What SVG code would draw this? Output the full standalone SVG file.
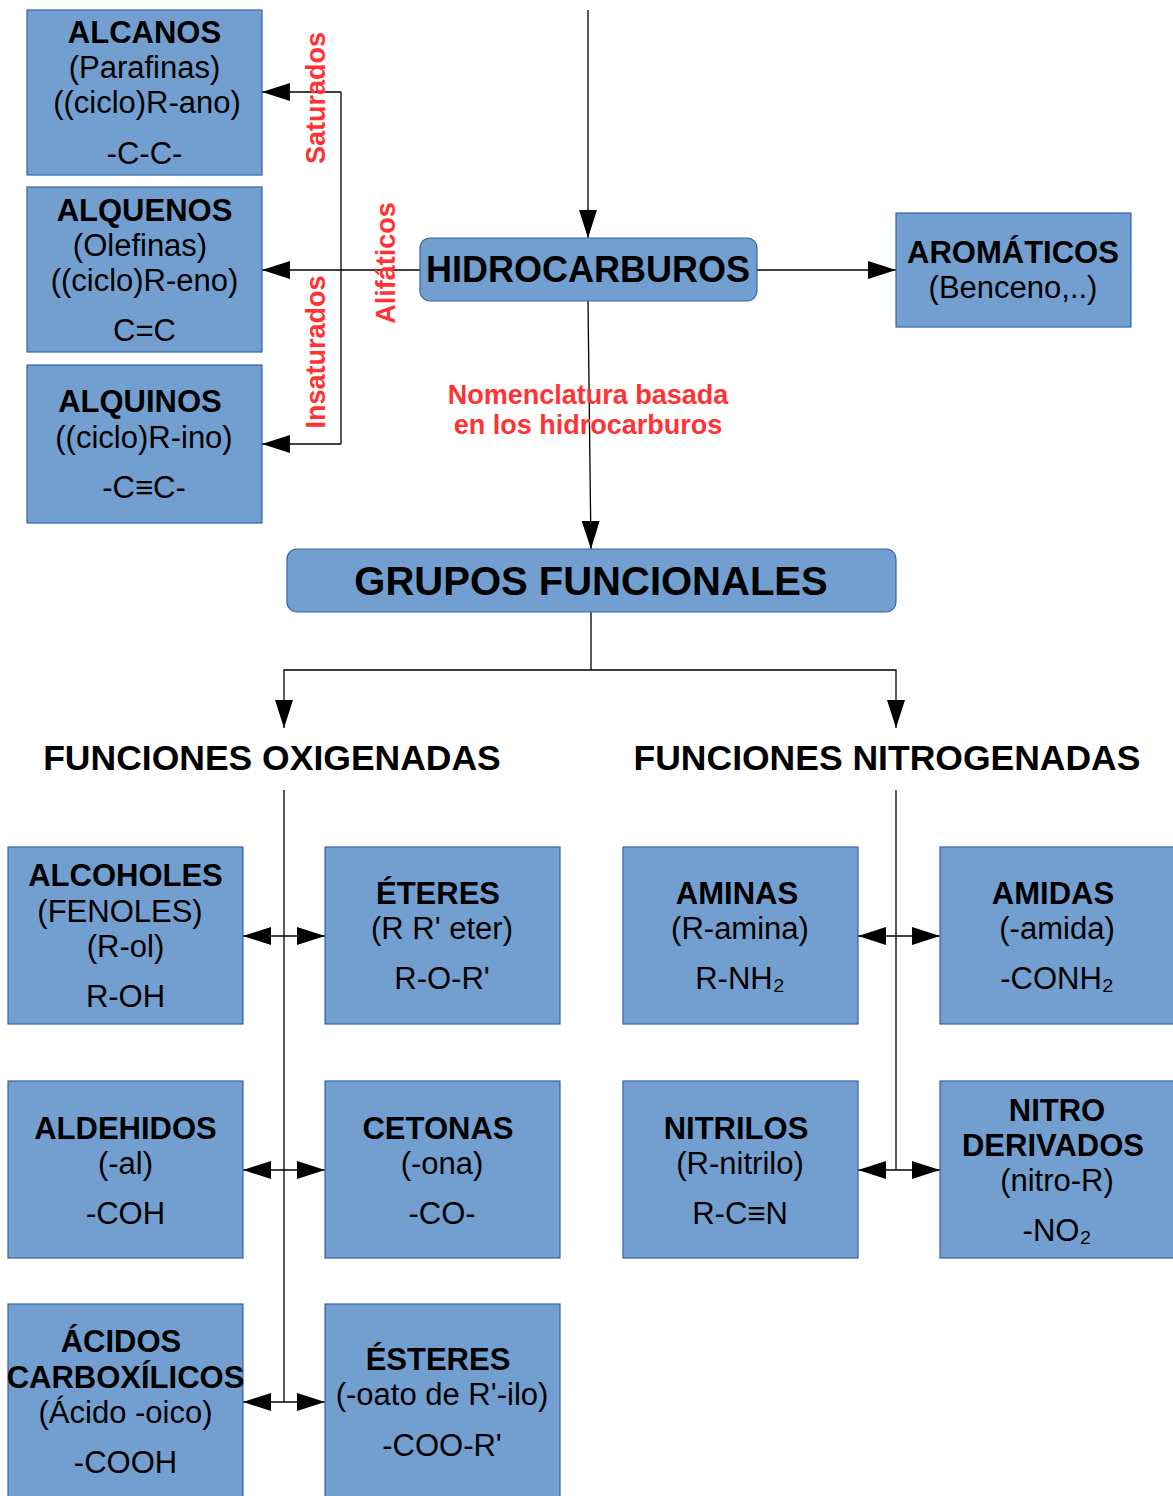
<svg xmlns="http://www.w3.org/2000/svg" width="1173" height="1496" viewBox="0 0 1173 1496">
<style>
.box{fill:#729fcf;stroke:#3465a4;stroke-width:1.2}
.t{font-family:"Liberation Sans",Arial,sans-serif;font-size:31px;fill:#000;text-anchor:middle}
.b{font-weight:bold}
.red{font-family:"Liberation Sans",Arial,sans-serif;font-size:27px;font-weight:bold;fill:#ff3333;text-anchor:middle}
.hdr{font-family:"Liberation Sans",Arial,sans-serif;font-size:35.5px;font-weight:bold;fill:#000;text-anchor:middle}
.c{fill:none;stroke:#000;stroke-width:1.3}
</style>
<defs>
<marker id="ah" markerUnits="userSpaceOnUse" markerWidth="28" markerHeight="18" refX="28" refY="9" orient="auto-start-reverse" viewBox="0 0 28 18">
<path d="M0,0 L28,9 L0,18 z" fill="#000"/>
</marker>
</defs>
<rect width="1173" height="1496" fill="#fff"/>

<g id="connectors">
<path class="c" d="M588,10 L588,238" marker-end="url(#ah)"/>
<path class="c" d="M757,270 L896,270" marker-end="url(#ah)"/>
<path class="c" d="M588,301 L591,549" marker-end="url(#ah)"/>
<path class="c" d="M420,270 L262,270" marker-end="url(#ah)"/>
<path class="c" d="M341,92 L341,444"/>
<path class="c" d="M341,92 L262,92" marker-end="url(#ah)"/>
<path class="c" d="M341,444 L262,444" marker-end="url(#ah)"/>
<path class="c" d="M591,612 L591,670"/>
<path class="c" d="M591,670 L284,670 L284,728" marker-end="url(#ah)"/>
<path class="c" d="M591,670 L896,670 L896,728" marker-end="url(#ah)"/>
<path class="c" d="M284,790 L284,1402"/>
<path class="c" d="M896,790 L896,1170"/>
<path class="c" d="M243,936 L325,936" marker-start="url(#ah)" marker-end="url(#ah)"/>
<path class="c" d="M243,1170 L325,1170" marker-start="url(#ah)" marker-end="url(#ah)"/>
<path class="c" d="M243,1402 L325,1402" marker-start="url(#ah)" marker-end="url(#ah)"/>
<path class="c" d="M858,936 L940,936" marker-start="url(#ah)" marker-end="url(#ah)"/>
<path class="c" d="M858,1170 L940,1170" marker-start="url(#ah)" marker-end="url(#ah)"/>
</g>

<g id="labels">
<text class="red" transform="translate(325,98) rotate(-90)">Saturados</text>
<text class="red" transform="translate(325,352) rotate(-90)">Insaturados</text>
<text class="red" transform="translate(395,263) rotate(-90)">Alifáticos</text>
<text class="red" x="588" y="404">Nomenclatura basada</text>
<text class="red" x="588" y="434">en los hidrocarburos</text>
</g>

<g id="alcanos">
<rect class="box" x="27" y="10" width="235" height="165"/>
<text class="t b" x="144.5" y="43">ALCANOS</text>
<text class="t" x="144.5" y="78">(Parafinas)</text>
<text class="t" x="147" y="113">((ciclo)R-ano)</text>
<text class="t" x="144.5" y="164">-C-C-</text>
</g>
<g id="alquenos">
<rect class="box" x="27" y="187" width="235" height="165"/>
<text class="t b" x="144.5" y="221">ALQUENOS</text>
<text class="t" x="140" y="256">(Olefinas)</text>
<text class="t" x="144.5" y="291">((ciclo)R-eno)</text>
<text class="t" x="144.5" y="341">C=C</text>
</g>
<g id="alquinos">
<rect class="box" x="27" y="365" width="235" height="158"/>
<text class="t b" x="140" y="412">ALQUINOS</text>
<text class="t" x="144" y="448">((ciclo)R-ino)</text>
<text class="t" x="144" y="498">-C≡C-</text>
</g>
<g id="hidrocarburos">
<rect class="box" x="420" y="238" width="337" height="63" rx="10"/>
<text class="t b" x="588" y="282" style="font-size:36px">HIDROCARBUROS</text>
</g>
<g id="aromaticos">
<rect class="box" x="896" y="213" width="235" height="114"/>
<text class="t b" x="1013" y="263">AROMÁTICOS</text>
<text class="t" x="1013" y="298">(Benceno,..)</text>
</g>
<g id="grupos">
<rect class="box" x="287" y="549" width="609" height="63" rx="10"/>
<text class="t b" x="591" y="595" style="font-size:40px">GRUPOS FUNCIONALES</text>
</g>
<g id="oxigenadas">
<text class="hdr" x="272" y="770">FUNCIONES OXIGENADAS</text>
</g>
<g id="nitrogenadas">
<text class="hdr" x="887" y="770">FUNCIONES NITROGENADAS</text>
</g>

<g id="alcoholes">
<rect class="box" x="8" y="847" width="235" height="177"/>
<text class="t b" x="125.5" y="886">ALCOHOLES</text>
<text class="t" x="120" y="922">(FENOLES)</text>
<text class="t" x="125.5" y="957">(R-ol)</text>
<text class="t" x="125.5" y="1007">R-OH</text>
</g>
<g id="eteres">
<rect class="box" x="325" y="847" width="235" height="177"/>
<text class="t b" x="438" y="904">ÉTERES</text>
<text class="t" x="442" y="939">(R R' eter)</text>
<text class="t" x="442" y="989">R-O-R'</text>
</g>
<g id="aminas">
<rect class="box" x="623" y="847" width="235" height="177"/>
<text class="t b" x="737" y="904">AMINAS</text>
<text class="t" x="740" y="939">(R-amina)</text>
<text class="t" x="740" y="989">R-NH₂</text>
</g>
<g id="amidas">
<rect class="box" x="940" y="847" width="235" height="177"/>
<text class="t b" x="1053" y="904">AMIDAS</text>
<text class="t" x="1057" y="939">(-amida)</text>
<text class="t" x="1057" y="989">-CONH₂</text>
</g>

<g id="aldehidos">
<rect class="box" x="8" y="1081" width="235" height="177"/>
<text class="t b" x="125.5" y="1139">ALDEHIDOS</text>
<text class="t" x="125.5" y="1174">(-al)</text>
<text class="t" x="125.5" y="1224">-COH</text>
</g>
<g id="cetonas">
<rect class="box" x="325" y="1081" width="235" height="177"/>
<text class="t b" x="438" y="1139">CETONAS</text>
<text class="t" x="442" y="1174">(-ona)</text>
<text class="t" x="442" y="1224">-CO-</text>
</g>
<g id="nitrilos">
<rect class="box" x="623" y="1081" width="235" height="177"/>
<text class="t b" x="736" y="1139">NITRILOS</text>
<text class="t" x="740" y="1174">(R-nitrilo)</text>
<text class="t" x="740" y="1224">R-C≡N</text>
</g>
<g id="nitroderivados">
<rect class="box" x="940" y="1081" width="235" height="177"/>
<text class="t b" x="1057" y="1121">NITRO</text>
<text class="t b" x="1053" y="1156">DERIVADOS</text>
<text class="t" x="1057" y="1191">(nitro-R)</text>
<text class="t" x="1057" y="1241">-NO₂</text>
</g>

<g id="acidos">
<rect class="box" x="8" y="1304" width="235" height="200"/>
<text class="t b" x="121" y="1352">ÁCIDOS</text>
<text class="t b" x="125.5" y="1388">CARBOXÍLICOS</text>
<text class="t" x="125.5" y="1423">(Ácido -oico)</text>
<text class="t" x="125.5" y="1473">-COOH</text>
</g>
<g id="esteres">
<rect class="box" x="325" y="1304" width="235" height="200"/>
<text class="t b" x="438" y="1370">ÉSTERES</text>
<text class="t" x="442" y="1405">(-oato de R'-ilo)</text>
<text class="t" x="442" y="1456">-COO-R'</text>
</g>
</svg>
